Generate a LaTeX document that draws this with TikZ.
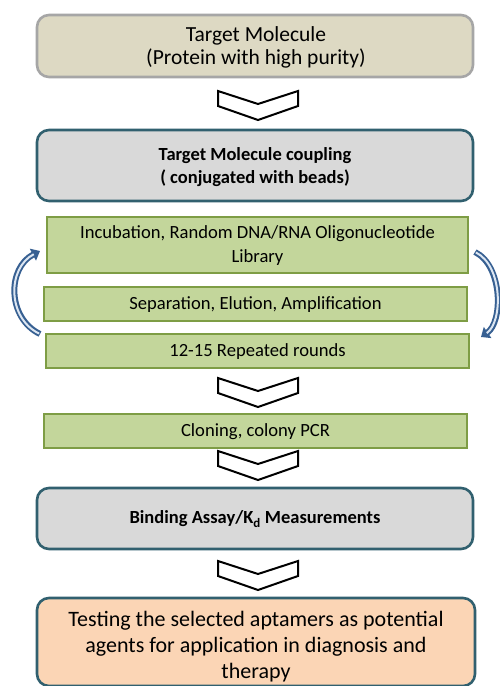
\documentclass[tikz,border=0pt]{standalone}
\usepackage{fontspec}
\setmainfont{Carlito}
\usetikzlibrary{arrows.meta}
\definecolor{tanfill}{HTML}{DDD9C3}
\definecolor{tanborder}{HTML}{A6A6A6}
\definecolor{grayfill}{HTML}{D9D9D9}
\definecolor{tealborder}{HTML}{31606F}
\definecolor{greenfill}{HTML}{C3D69B}
\definecolor{greenborder}{HTML}{7E9D45}
\definecolor{peachfill}{HTML}{FBD5B5}
\definecolor{arcblue}{HTML}{376092}
\definecolor{arclight}{HTML}{DCE6F2}
\tikzset{
  bigbox/.style={draw, rounded corners=12pt, line width=2.6pt, inner sep=0pt},
  greenbox/.style={draw=greenborder, fill=greenfill, line width=1.5pt, inner sep=0pt},
  chev/.style={draw=black, fill=white, line width=2pt, line join=miter},
  txt/.style={align=center, inner sep=0pt, text=black},
  arcouter/.style={arcblue, line width=6pt, -{Triangle[width=13pt,length=8pt]}},
  arcinner/.style={arclight, line width=2pt, shorten >=7pt, shorten <=1pt},
}
\begin{document}
\begin{tikzpicture}[x=1pt,y=-1pt]
\useasboundingbox (0,0) rectangle (499,686);
\fill[white] (0,0) rectangle (499,686);

% boxes
\node[bigbox, draw=tanborder, fill=tanfill, minimum width=436pt, minimum height=62pt] (b1) at (255,46) {};
\node[txt, font=\fontsize{21.5}{23}\selectfont] (t1) at (256,47) {Target Molecule\\(Protein with high purity)};

\node[bigbox, draw=tealborder, fill=grayfill, minimum width=436pt, minimum height=71pt] (b2) at (255,165.5) {};
\node[txt, font=\bfseries\fontsize{18.5}{23}\selectfont] (t2) at (255,167) {Target Molecule coupling\\( conjugated with beads)};

\node[greenbox, minimum width=421pt, minimum height=56pt] (g1) at (257.5,245) {};
\node[txt, font=\fontsize{18.6}{24}\selectfont] (tg1) at (257.5,246) {Incubation, Random DNA/RNA Oligonucleotide\\Library};

\node[greenbox, minimum width=423pt, minimum height=34pt] (g2) at (255.5,304) {};
\node[txt, font=\fontsize{18.6}{20}\selectfont] (tg2) at (255.5,305) {Separation, Elution, Amplification};

\node[greenbox, minimum width=423pt, minimum height=34pt] (g3) at (257.5,351) {};
\node[txt, font=\fontsize{18.6}{20}\selectfont] (tg3) at (257.5,352) {12-15 Repeated rounds};

\node[greenbox, minimum width=423pt, minimum height=34pt] (g4) at (255.5,431) {};
\node[txt, font=\fontsize{18.6}{20}\selectfont] (tg4) at (255.5,432) {Cloning, colony PCR};

\node[bigbox, draw=tealborder, fill=grayfill, minimum width=436pt, minimum height=61pt] (b3) at (255,518.5) {};
\node[txt, font=\bfseries\fontsize{18.5}{20}\selectfont] (t3) at (255,519) {Binding Assay/K\textsubscript{d} Measurements};

\node[bigbox, draw=tealborder, fill=peachfill, minimum width=438pt, minimum height=88pt] (b4) at (256,642) {};
\node[txt, font=\fontsize{22}{26}\selectfont] (t4) at (256,647) {Testing the selected aptamers as potential\\agents for application in diagnosis and\\therapy};

% chevrons
\foreach \yy in {90,377,450,560}{
  \draw[chev] (218,\yy+1) -- (258,\yy+14) -- (298,\yy+1) -- (298,\yy+16) -- (258,\yy+30) -- (218,\yy+16) -- cycle;
}

% curved block arrows
\coordinate (la) at (40,334);
\coordinate (lb) at (40,251);
\draw[arcouter] (la) .. controls (7,318) and (7,268) .. (lb);
\draw[arcinner] (la) .. controls (7,318) and (7,268) .. (lb);

\coordinate (ra) at (475,252);
\coordinate (rb) at (481,337);
\draw[arcouter] (ra) .. controls (503,266) and (503,322) .. (rb);
\draw[arcinner] (ra) .. controls (503,266) and (503,322) .. (rb);
\end{tikzpicture}
\end{document}
